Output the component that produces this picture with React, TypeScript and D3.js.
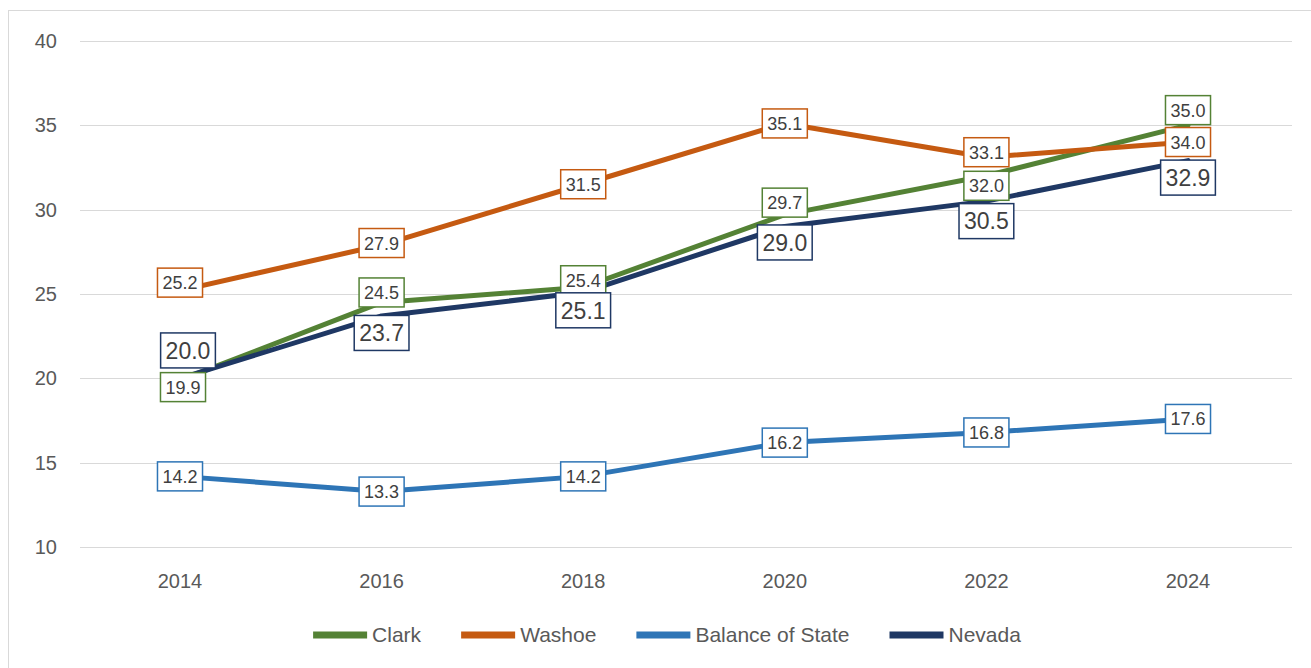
import React, { useEffect, useRef } from "react";
import * as d3 from "d3";

const years = ["2014", "2016", "2018", "2020", "2022", "2024"];
const clark = [19.9, 24.5, 25.4, 29.7, 32.0, 35.0];
const washoe = [25.2, 27.9, 31.5, 35.1, 33.1, 34.0];
const balanceOfState = [14.2, 13.3, 14.2, 16.2, 16.8, 17.6];
const nevada = [20.0, 23.7, 25.1, 29.0, 30.5, 32.9];
const yTicks = [10, 15, 20, 25, 30, 35, 40];
const seriesNames = ["Clark", "Washoe", "Balance of State", "Nevada"];

// label placement (styling): vertical offsets of data labels from points
const labelDy = [
  [7, -10, -7, -12, 10, -15],
  [-8, -2, 0, 0, -5, 0],
  [0, 0, 0, 0, 0, 0],
  [-28, 17, 18, 16, 20, 17],
];
const labelDx = [
  [3, 0, 0, 0, 0, 0],
  [0, 0, 0, 0, 0, 0],
  [0, 0, 0, 0, 0, 0],
  [8, 0, 0, 0, 0, 0],
];
const colors = ["#548235", "#C55A11", "#2E75B6", "#1F3864"];

export default function App() {
  const ref = useRef<SVGSVGElement>(null);

  useEffect(() => {
    const svg = d3.select(ref.current);
    svg.selectAll("*").remove();
    const font = "'Liberation Sans', Arial, sans-serif";
    const values = [clark, washoe, balanceOfState, nevada];

    const x = d3.scalePoint<string>().domain(years).range([180, 1188]);
    const y = d3.scaleLinear().domain([10, 40]).range([547.3, 40.7]);

    // border
    svg.append("rect").attr("x", 8.5).attr("y", 10.5).attr("width", 1320).attr("height", 700)
      .attr("fill", "white").attr("stroke", "#d9d9d9").attr("stroke-width", 1);

    // gridlines
    svg.append("g").selectAll("line").data(yTicks).join("line")
      .attr("x1", 80).attr("x2", 1292)
      .attr("y1", (d) => Math.round(y(d)) + 0.5).attr("y2", (d) => Math.round(y(d)) + 0.5)
      .attr("stroke", "#d9d9d9").attr("stroke-width", 1);

    // y tick labels
    svg.append("g").selectAll("text").data(yTicks).join("text")
      .attr("x", 57).attr("y", (d) => y(d)).attr("dy", "0.35em")
      .attr("text-anchor", "end").attr("font-family", font).attr("font-size", 20)
      .attr("fill", "#595959").text((d) => String(d));

    // x tick labels
    svg.append("g").selectAll("text").data(years).join("text")
      .attr("x", (d) => x(d)!).attr("y", 581).attr("dy", "0.35em")
      .attr("text-anchor", "middle").attr("font-family", font).attr("font-size", 20)
      .attr("fill", "#595959").text((d) => d);

    // lines
    const line = d3.line<number>().x((_, i) => x(years[i])!).y((d) => y(d));
    values.forEach((vals, s) => {
      svg.append("path").datum(vals).attr("d", line).attr("fill", "none")
        .attr("stroke", colors[s]).attr("stroke-width", 5)
        .attr("stroke-linejoin", "round").attr("stroke-linecap", "round");
    });

    // data labels
    values.forEach((vals, s) => {
      const big = s === 3;
      const fs = big ? 23 : 18;
      const pad = 5;
      const h = big ? 35 : 29;
      vals.forEach((v, i) => {
        const cx = x(years[i])! + labelDx[s][i];
        const cy = y(v) + labelDy[s][i];
        const g = svg.append("g");
        const rect = g.append("rect");
        const t = g.append("text").attr("x", cx).attr("y", cy).attr("dy", "0.36em")
          .attr("text-anchor", "middle").attr("font-family", font).attr("font-size", fs)
          .attr("fill", "#404040").text(v.toFixed(1));
        const w = (t.node() as SVGTextElement).getComputedTextLength() + pad * 2;
        rect.attr("x", cx - w / 2).attr("y", cy - h / 2).attr("width", w).attr("height", h)
          .attr("fill", "white").attr("stroke", colors[s]).attr("stroke-width", 1.5);
      });
    });

    // legend
    const lg = svg.append("g");
    const swW = 54, gapText = 5, gapItem = 40;
    let cur = 0;
    seriesNames.forEach((name, s) => {
      const gi = lg.append("g");
      gi.append("rect").attr("x", cur).attr("y", 635 - 3.5).attr("width", swW).attr("height", 7)
        .attr("fill", colors[s]);
      const t = gi.append("text").attr("x", cur + swW + gapText).attr("y", 635).attr("dy", "0.35em")
        .attr("font-family", font).attr("font-size", 21).attr("fill", "#595959").text(name);
      const tw = (t.node() as SVGTextElement).getComputedTextLength();
      cur += swW + gapText + tw + gapItem;
    });
    const total = cur - gapItem;
    lg.attr("transform", `translate(${667 - total / 2},0)`);
  }, []);

  return (
    <svg ref={ref} width={1311} height={668}
      style={{ position: "absolute", left: 0, top: 0, background: "white" }} />
  );
}
